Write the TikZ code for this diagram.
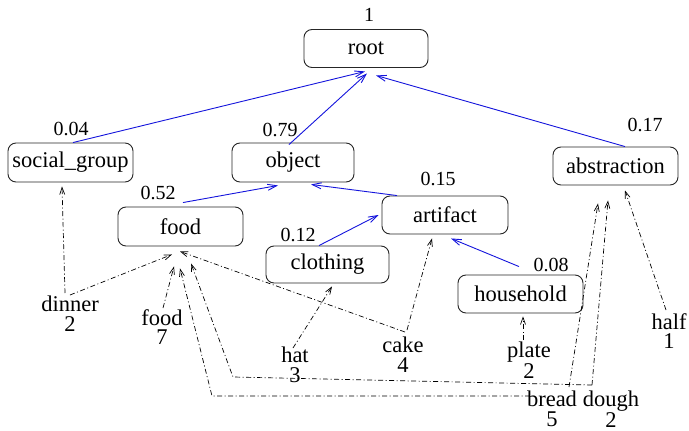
\documentclass[tikz,border=0pt]{standalone}
\usepackage{fontspec}
\setmainfont{Liberation Serif}
\usetikzlibrary{arrows.meta,calc}
\begin{document}
\begin{tikzpicture}[x=1pt,y=-1pt,
  tbox/.style={draw=black!85, line width=0.9pt, rounded corners=8pt,
    minimum width=#1, minimum height=38pt, inner sep=0pt,
    font=\fontsize{22.5}{24}\selectfont},
  weight/.style={inner sep=0pt, font=\fontsize{20}{22}\selectfont},
  word/.style={inner sep=0pt, anchor=north, align=center,
    font=\fontsize{22.5}{19.5}\selectfont},
  isa/.style={draw={rgb,255:red,20;green,20;blue,220}, line width=0.9pt,
    -{Straight Barb[length=9pt,width=6pt]}},
  occ/.style={draw=black, line width=0.7pt,
    dash pattern=on 5pt off 2.5pt on 1pt off 2.5pt,
    -{Straight Barb[length=7pt,width=5pt]}}
]
\useasboundingbox (0,0) rectangle (689,431);

% concept boxes
\node[tbox=124pt] (root) at (366,48.5) {root};
\node[tbox=125pt, minimum height=39pt] (social) at (70.5,162.5) {social\_group};
\node[tbox=122pt, minimum height=39pt] (object) at (293,162.5) {object};
\node[tbox=125pt, minimum height=39pt] (food) at (180.5,226.5) {food};
\node[tbox=123pt, minimum height=37pt] (clothing) at (327.5,264.5) {clothing};
\node[tbox=126pt] (artifact) at (445,215) {artifact};
\node[tbox=125pt] (abstraction) at (615.5,166) {abstraction};
\node[tbox=125pt] (household) at (520.5,294) {household};

% weights
\node[weight] (w-root) at (369,15) {1};
\node[weight] (w-social) at (71,129) {0.04};
\node[weight] (w-object) at (280,130) {0.79};
\node[weight] (w-food) at (158,193) {0.52};
\node[weight] (w-clothing) at (298,235) {0.12};
\node[weight] (w-artifact) at (438,179) {0.15};
\node[weight] (w-abstraction) at (645,125) {0.17};
\node[weight] (w-household) at (551,265) {0.08};

% words
\node[word] (dinner) at (70,296) {dinner\\2};
\node[word] (food7) at (162,309) {food\\7};
\node[word] (hat) at (295,347) {hat\\3};
\node[word] (cake) at (403,337) {cake\\4};
\node[word] (plate) at (529,342) {plate\\2};
\node[word] (half) at (669,313) {half\\1};
\node[word] (bread) at (552,391) {bread\\5};
\node[word] (dough) at (611,391) {dough\\2};

\coordinate (bendB) at (212,396);
\coordinate (bendD) at (233,377);

% is-a links
\draw[isa] ([shift={(2.5,0)}]social.north) -- ([shift={(-1,3.5)}]root.south);
\draw[isa] ([shift={(-4,2)}]object.north) -- ([shift={(1,5.5)}]root.south);
\draw[isa] ([shift={(9.5,0)}]abstraction.north) -- ([shift={(10,7.5)}]root.south);
\draw[isa] ([shift={(2.5,-4)}]food.north) -- ([shift={(-15,3)}]object.south);
\draw[isa] ([shift={(-48,0)}]artifact.north) -- ([shift={(18,2)}]object.south);
\draw[isa] ([shift={(-8.5,0)}]clothing.north) -- ([shift={(-3,0)}]artifact.west);
\draw[isa] ([shift={(-1.5,-8)}]household.north) -- ([shift={(6,4)}]artifact.south);

% word occurrences
\draw[occ] ([shift={(-5,-3)}]dinner.north) -- ([shift={(-8.5,4)}]social.south);
\draw[occ] ([shift={(0,-1)}]dinner.north) -- ([shift={(-8.5,8)}]food.south);
\draw[occ] ([shift={(1,-1)}]food7.north) -- ([shift={(-6.5,20)}]food.south);
\draw[occ] ([shift={(-2,1)}]hat.north) -- ([shift={(4.5,3)}]clothing.south);
\draw[occ] ([shift={(2,-5)}]cake.north) -- ([shift={(-0.5,5)}]food.south);
\draw[occ] ([shift={(4,-7)}]cake.north) -- ([shift={(-13,4)}]artifact.south);
\draw[occ] ([shift={(-6,-2)}]plate.north) -- ([shift={(2.5,3)}]household.south);
\draw[occ] ([shift={(-3,-3)}]half.north) -- ([shift={(9.5,5)}]abstraction.south);
\draw[occ] ([shift={(-22,5)}]bread.north) -- (bendB) -- ([shift={(-0.5,22)}]food.south);
\draw[occ] ([shift={(17,-4)}]bread.north) -- ([shift={(-17.5,18)}]abstraction.south);
\draw[occ] ([shift={(-19,-6)}]dough.north) -- (bendD) -- ([shift={(10.5,17)}]food.south);
\draw[occ] ([shift={(-19,-6)}]dough.north) -- ([shift={(-7.5,15)}]abstraction.south);
\end{tikzpicture}
\end{document}
